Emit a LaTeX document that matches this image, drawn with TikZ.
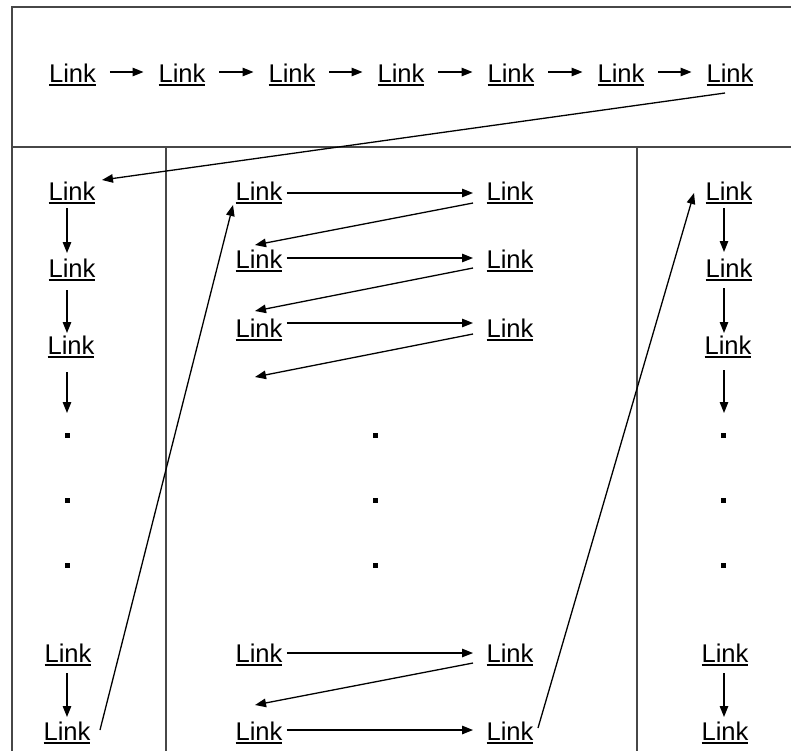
\documentclass[tikz,border=0pt]{standalone}
\usepackage{fontspec}
\setmainfont{Liberation Sans}
\usetikzlibrary{arrows.meta}

% underlined "Link" label
\newcommand\linkword{\leavevmode\setbox0\hbox{Link}\rlap{\rule[-4pt]{\wd0}{1.6pt}}\box0}

\tikzset{
  lnk/.style={inner sep=0pt, outer sep=0pt, anchor=base,
    font=\fontsize{25.6}{30}\selectfont},
  dotmark/.style={rectangle, fill=black, inner sep=0pt, minimum size=5pt},
  arr/.style={line width=1.3pt, -{Triangle[length=11pt,width=8.5pt]}},
  frameline/.style={line width=1.3pt, draw=black!72}
}

\begin{document}
\begin{tikzpicture}[x=1pt,y=-1pt]
\useasboundingbox (0,0) rectangle (791,750);

% frame and column dividers
\draw[frameline] (791,7) -- (12,7) -- (12,752);
\draw[frameline] (12,147) -- (791,147);
\draw[frameline] (166,147) -- (166,752);
\draw[frameline] (637,147) -- (637,752);

% top row
\foreach \n/\x in {1/72.5,2/182,3/292,4/401,5/511,6/621,7/730}
  \node[lnk] (t\n) at (\x,82) {\linkword};
\foreach \i [evaluate=\i as \j using int(\i+1)] in {1,...,6}
  \draw[arr] ([shift={(14,-10)}]t\i.base east) -- ([shift={(-15,-10)}]t\j.base west);

% left column
\node[lnk] (a1) at (72,200) {\linkword};
\node[lnk] (a2) at (72,277) {\linkword};
\node[lnk] (a3) at (71,354) {\linkword};
\node[lnk] (a4) at (68,662) {\linkword};
\node[lnk] (a5) at (67,740) {\linkword};
\node[dotmark] (da1) at (67,435) {};
\node[dotmark] (da2) at (67,500) {};
\node[dotmark] (da3) at (67,565) {};
\draw[arr] ([shift={(-5,8)}]a1.base) -- ([shift={(-5,-24)}]a2.base);
\draw[arr] ([shift={(-5,13)}]a2.base) -- ([shift={(-4,-21)}]a3.base);
\draw[arr] ([shift={(-4,18)}]a3.base) -- ([shift={(0,-22)}]da1.center);
\draw[arr] ([shift={(-1,11)}]a4.base) -- ([shift={(0,-23)}]a5.base);

% middle column
\foreach \n/\y in {1/200,2/268,3/337,4/662,5/740}{
  \node[lnk] (m\n) at (259,\y) {\linkword};
  \node[lnk] (n\n) at (510,\y) {\linkword};
}
\node[dotmark] (dm1) at (375,435) {};
\node[dotmark] (dm2) at (375,500) {};
\node[dotmark] (dm3) at (375,565) {};
\coordinate (e3) at (255,377);
\foreach \n/\dy in {1/-7,2/-10,3/-14,4/-9,5/-10}
  \draw[arr] ([shift={(4.5,\dy)}]m\n.base east) -- ([shift={(-13.5,\dy)}]n\n.base west);
\draw[arr] ([shift={(-13.5,3)}]n1.base west) -- ([shift={(19.5,-23)}]m2.base west);
\draw[arr] ([shift={(-13.5,0)}]n2.base west) -- ([shift={(19.5,-26)}]m3.base west);
\draw[arr] ([shift={(-13.5,-3)}]n3.base west) -- (e3);
\draw[arr] ([shift={(-13.5,1)}]n4.base west) -- ([shift={(19.5,-35)}]m5.base west);

% right column
\node[lnk] (r1) at (729,200) {\linkword};
\node[lnk] (r2) at (729,277) {\linkword};
\node[lnk] (r3) at (728,354) {\linkword};
\node[lnk] (r4) at (725,662) {\linkword};
\node[lnk] (r5) at (725,740) {\linkword};
\node[dotmark] (dr1) at (723,435) {};
\node[dotmark] (dr2) at (723,500) {};
\node[dotmark] (dr3) at (723,565) {};
\draw[arr] ([shift={(-5,8)}]r1.base) -- ([shift={(-5,-25)}]r2.base);
\draw[arr] ([shift={(-5,11)}]r2.base) -- ([shift={(-4,-21)}]r3.base);
\draw[arr] ([shift={(-4,16)}]r3.base) -- ([shift={(1,-22)}]dr1.center);
\draw[arr] ([shift={(-1,11)}]r4.base) -- ([shift={(-1,-23)}]r5.base);

% long connectors between sections
\draw[arr] ([shift={(-5,11)}]t7.base) -- ([shift={(6.5,-20)}]a1.base east);
\draw[arr] ([shift={(9.5,-10)}]a5.base east) -- ([shift={(-2.5,5)}]m1.base west);
\draw[arr] ([shift={(4.5,-12)}]n5.base east) -- ([shift={(-11.5,-7)}]r1.base west);
\end{tikzpicture}
\end{document}
